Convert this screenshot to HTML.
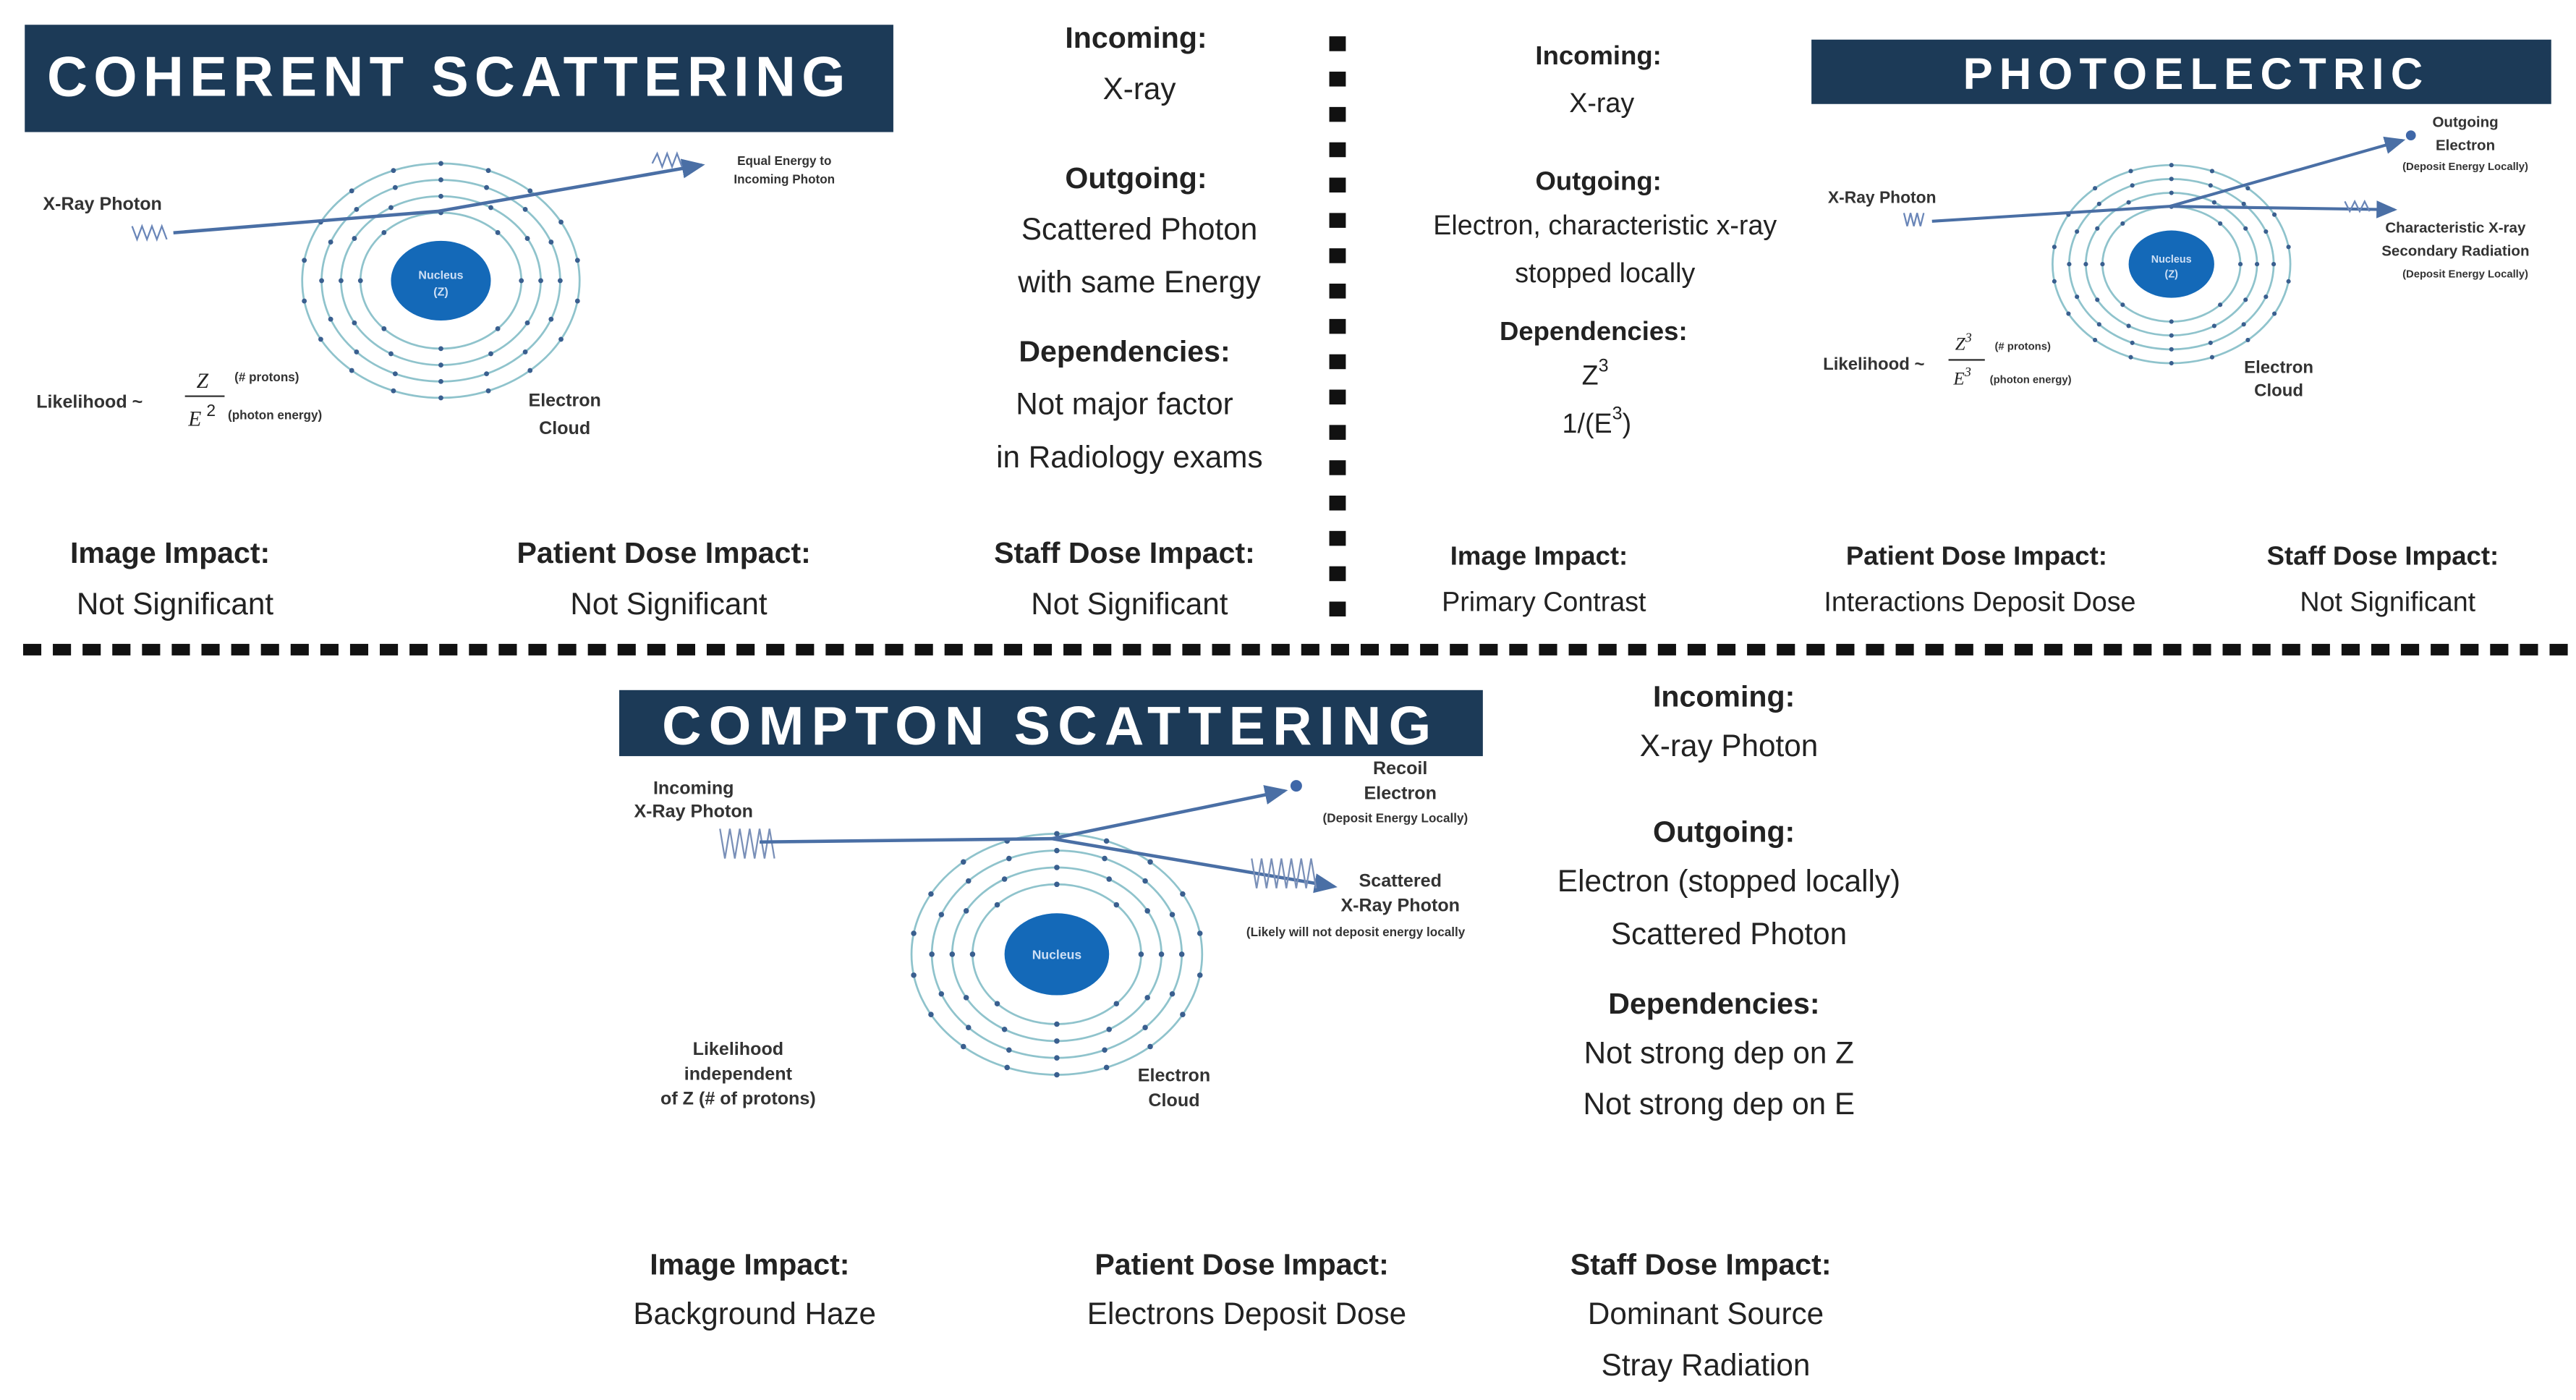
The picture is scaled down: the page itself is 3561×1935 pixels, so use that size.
<!DOCTYPE html>
<html><head><meta charset="utf-8"><style>
html,body{margin:0;padding:0;background:#fff;}
svg{display:block;}
text{font-family:"Liberation Sans",sans-serif;fill:#222;}
.h{font-weight:bold;fill:#fff;font-size:33px;letter-spacing:4px;}
.b{font-weight:bold;font-size:18px;}
.n{font-size:18.5px;}
.s{font-weight:bold;font-size:11px;fill:#333;}
.t{font-weight:bold;font-size:7.5px;fill:#333;}
</style></head><body>
<svg id="sv" width="3561" height="1935" viewBox="0 0 1560 848" preserveAspectRatio="none" xmlns="http://www.w3.org/2000/svg">
<defs><marker id="ar" markerWidth="8" markerHeight="8" refX="6" refY="3" orient="auto"><path d="M0,0 L7,3 L0,6z" fill="#4a6fa5"/></marker></defs>
<rect x="15" y="15" width="526" height="65" fill="#1c3a57"/>
<text class="h" x="272" y="58" text-anchor="middle" style="font-size:34px;letter-spacing:3.6px">COHERENT SCATTERING</text>
<rect x="1097" y="24" width="448" height="39" fill="#1c3a57"/>
<text class="h" x="1330" y="54" text-anchor="middle" style="font-size:27px">PHOTOELECTRIC</text>
<rect x="375" y="418" width="523" height="40" fill="#1c3a57"/>
<text class="h" x="636" y="451" text-anchor="middle" style="font-size:33px;letter-spacing:4.5px">COMPTON SCATTERING</text>
<g id="dash"></g>
<g id="atoms"></g>
<path d="M80,137 l3,8 l3,-8 l3,8 l3,-8 l3,8 l3,-8 l3,8" stroke="#6a86b8" fill="none" stroke-width="1"/>
<path d="M105,141 L265,128 L425,100" stroke="#4a6fa5" stroke-width="2" fill="none" marker-end="url(#ar)"/>
<path d="M395,99 l3,-6 l3,8 l3,-8 l3,8 l3,-8 l3,8" stroke="#6a86b8" fill="none"/>
<text class="s" x="26" y="127">X-Ray Photon</text>
<text class="t" x="475" y="100" text-anchor="middle">Equal Energy to</text>
<text class="t" x="475" y="111" text-anchor="middle">Incoming Photon</text>
<text class="s" x="22" y="247">Likelihood ~</text>
<text x="119" y="235" style="font-family:'Liberation Serif',serif;font-style:italic;font-size:13px">Z</text>
<line x1="112" y1="240" x2="136" y2="240" stroke="#333"/>
<text x="114" y="258" style="font-family:'Liberation Serif',serif;font-style:italic;font-size:13px">E</text>
<text x="125" y="252" style="font-size:10px">2</text>
<text class="t" x="142" y="231">(# protons)</text>
<text class="t" x="138" y="254">(photon energy)</text>
<text class="s" x="342" y="246" text-anchor="middle">Electron</text>
<text class="s" x="342" y="263" text-anchor="middle">Cloud</text>
<g text-anchor="middle">
<text class="b" x="688" y="29">Incoming:</text><text class="n" x="690" y="60">X-ray</text>
<text class="b" x="688" y="114">Outgoing:</text><text class="n" x="690" y="145">Scattered Photon</text><text class="n" x="690" y="177">with same Energy</text>
<text class="b" x="681" y="219">Dependencies:</text><text class="n" x="681" y="251">Not major factor</text><text class="n" x="684" y="283">in Radiology exams</text>
<text class="b" x="103" y="341">Image Impact:</text><text class="n" x="106" y="372">Not Significant</text>
<text class="b" x="402" y="341">Patient Dose Impact:</text><text class="n" x="405" y="372">Not Significant</text>
<text class="b" x="681" y="341">Staff Dose Impact:</text><text class="n" x="684" y="372">Not Significant</text>
</g>
<g text-anchor="middle">
<text class="b" x="968" y="39" style="font-size:16px">Incoming:</text><text x="970" y="68" style="font-size:16.5px">X-ray</text>
<text class="b" x="968" y="115" style="font-size:16px">Outgoing:</text><text x="972" y="142" style="font-size:16.5px">Electron, characteristic x-ray</text><text x="972" y="171" style="font-size:16.5px">stopped locally</text>
<text class="b" x="965" y="206" style="font-size:16px">Dependencies:</text>
<text x="966" y="233" style="font-size:16.5px">Z<tspan dy="-8" style="font-size:11px">3</tspan></text>
<text x="967" y="262" style="font-size:16.5px">1/(E<tspan dy="-8" style="font-size:11px">3</tspan><tspan dy="8">)</tspan></text>
<text class="b" x="932" y="342" style="font-size:16px">Image Impact:</text><text x="935" y="370" style="font-size:16.5px">Primary Contrast</text>
<text class="b" x="1197" y="342" style="font-size:16px">Patient Dose Impact:</text><text x="1199" y="370" style="font-size:16.5px">Interactions Deposit Dose</text>
<text class="b" x="1443" y="342" style="font-size:16px">Staff Dose Impact:</text><text x="1446" y="370" style="font-size:16.5px">Not Significant</text>
</g>
<path d="M1153,129 l2,8 l2,-8 l2,8 l2,-8 l2,8 l2,-8" stroke="#6a86b8" fill="none"/>
<path d="M1170,134 L1314,125 L1455,85" stroke="#4a6fa5" stroke-width="1.8" fill="none" marker-end="url(#ar)"/>
<circle cx="1460" cy="82" r="3" fill="#3f67a8"/>
<path d="M1314,125 L1450,127" stroke="#4a6fa5" stroke-width="1.8" fill="none" marker-end="url(#ar)"/>
<path d="M1420,122 l3,6 l3,-6 l3,6 l3,-6 l3,6" stroke="#6a86b8" fill="none"/>
<text class="s" x="1107" y="123" style="font-size:10px">X-Ray Photon</text>
<text class="t" x="1493" y="77" text-anchor="middle" style="font-size:9px">Outgoing</text>
<text class="t" x="1493" y="91" text-anchor="middle" style="font-size:9px">Electron</text>
<text class="t" x="1493" y="103" text-anchor="middle" style="font-size:6.5px">(Deposit Energy Locally)</text>
<text class="t" x="1487" y="141" text-anchor="middle" style="font-size:9px">Characteristic X-ray</text>
<text class="t" x="1487" y="155" text-anchor="middle" style="font-size:9px">Secondary Radiation</text>
<text class="t" x="1493" y="168" text-anchor="middle" style="font-size:6.5px">(Deposit Energy Locally)</text>
<text class="s" x="1104" y="224" style="font-size:10.5px">Likelihood ~</text>
<text x="1184" y="212" style="font-family:'Liberation Serif',serif;font-style:italic;font-size:11px">Z<tspan dy="-5" style="font-size:8px">3</tspan></text>
<line x1="1180" y1="218" x2="1202" y2="218" stroke="#333"/>
<text x="1183" y="233" style="font-family:'Liberation Serif',serif;font-style:italic;font-size:11px">E<tspan dy="-5" style="font-size:8px">3</tspan></text>
<text class="t" x="1208" y="212" style="font-size:6.5px">(# protons)</text>
<text class="t" x="1205" y="232" style="font-size:6.5px">(photon energy)</text>
<text class="s" x="1380" y="226" text-anchor="middle" style="font-size:10.5px">Electron</text>
<text class="s" x="1380" y="240" text-anchor="middle" style="font-size:10.5px">Cloud</text>
<path d="M436,502 l3,18 l3,-18 l3,18 l3,-18 l3,18 l3,-18 l3,18 l3,-18 l3,18 l3,-18 l3,18" stroke="#7a90b8" fill="none"/>
<path d="M460,510 L637,508 L778,479" stroke="#4a6fa5" stroke-width="2" fill="none" marker-end="url(#ar)"/>
<circle cx="785" cy="476" r="3.5" fill="#3f67a8"/>
<path d="M637,508 L808,537" stroke="#4a6fa5" stroke-width="2" fill="none" marker-end="url(#ar)"/>
<path d="M758,520 l3,18 l3,-18 l3,18 l3,-18 l3,18 l3,-18 l3,18 l3,-18 l3,18 l3,-18 l3,18 l3,-18 l3,18" stroke="#7a90b8" fill="none"/>
<g text-anchor="middle">
<text class="s" x="420" y="481">Incoming</text><text class="s" x="420" y="495">X-Ray Photon</text>
<text class="s" x="848" y="469">Recoil</text><text class="s" x="848" y="484">Electron</text><text class="t" x="845" y="498">(Deposit Energy Locally)</text>
<text class="s" x="848" y="537">Scattered</text><text class="s" x="848" y="552">X-Ray Photon</text><text class="t" x="821" y="567">(Likely will not deposit energy locally</text>
<text class="s" x="447" y="639">Likelihood</text><text class="s" x="447" y="654">independent</text><text class="s" x="447" y="669">of Z (# of protons)</text>
<text class="s" x="711" y="655">Electron</text><text class="s" x="711" y="670">Cloud</text>
<text class="b" x="1044" y="428">Incoming:</text><text class="n" x="1047" y="458">X-ray Photon</text>
<text class="b" x="1044" y="510">Outgoing:</text><text class="n" x="1047" y="540">Electron (stopped locally)</text><text class="n" x="1047" y="572">Scattered Photon</text>
<text class="b" x="1038" y="614">Dependencies:</text><text class="n" x="1041" y="644">Not strong dep on Z</text><text class="n" x="1041" y="675">Not strong dep on E</text>
<text class="b" x="454" y="772">Image Impact:</text><text class="n" x="457" y="802">Background Haze</text>
<text class="b" x="752" y="772">Patient Dose Impact:</text><text class="n" x="755" y="802">Electrons Deposit Dose</text>
<text class="b" x="1030" y="772">Staff Dose Impact:</text><text class="n" x="1033" y="802">Dominant Source</text><text class="n" x="1033" y="833">Stray Radiation</text>
</g>
</svg>
<script>
var NS="http://www.w3.org/2000/svg";
function el(p,t,a){var e=document.createElementNS(NS,t);for(var k in a)e.setAttribute(k,a[k]);p.appendChild(e);return e;}
var d=document.getElementById("dash");
for(var y=22;y<372;y+=21.4)el(d,"rect",{x:805,y:y,width:10,height:9,fill:"#111"});
for(var x=14;x<1545;x+=18)el(d,"rect",{x:x,y:390,width:11,height:7,fill:"#111"});
var A=document.getElementById("atoms");
function atom(cx,cy,rx,ry,lbl,sz){
 var fr=[1,0.86,0.72,0.58];var cnt=[18,16,12,8];
 for(var i=0;i<4;i++){el(A,"ellipse",{cx:cx,cy:cy,rx:rx*fr[i],ry:ry*fr[i],fill:"none",stroke:"#8fc3cc","stroke-width":1.2});
  for(var j=0;j<cnt[i];j++){var a=2*Math.PI*j/cnt[i]-Math.PI/2;el(A,"circle",{cx:cx+rx*fr[i]*Math.cos(a),cy:cy+ry*fr[i]*Math.sin(a),r:sz*1.5,fill:"#3a5f8f"});}}
 el(A,"ellipse",{cx:cx,cy:cy,rx:rx*0.36,ry:ry*0.34,fill:"#1469b8"});
 var t=el(A,"text",{x:cx,y:cy+(lbl[1]?-1:3),"text-anchor":"middle",style:"fill:#cfe0f5;font-size:"+(7*sz)+"px;font-weight:bold"});t.textContent=lbl[0];
 if(lbl[1]){t=el(A,"text",{x:cx,y:cy+9*sz,"text-anchor":"middle",style:"fill:#cfe0f5;font-size:"+(7*sz)+"px;font-weight:bold"});t.textContent=lbl[1];}
}
atom(267,170,84,71,["Nucleus","(Z)"],1);
atom(1315,160,72,60,["Nucleus","(Z)"],0.9);
atom(640,578,88,73,["Nucleus"],1.1);
</script>
</body></html>
